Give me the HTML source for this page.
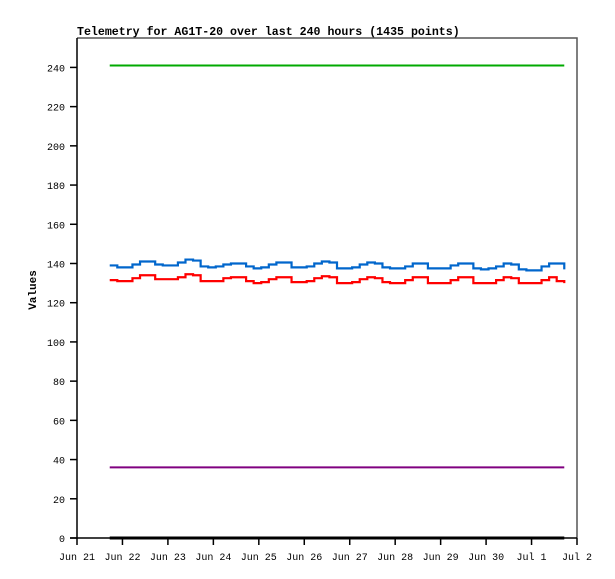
<!DOCTYPE html>
<html><head><meta charset="utf-8"><style>
html,body{margin:0;padding:0;background:#fff;}
svg{display:block;font-family:"Liberation Mono","DejaVu Sans Mono",monospace;}
</style></head><body>
<svg id="chart" width="615" height="579" viewBox="0 0 615 579" xmlns="http://www.w3.org/2000/svg">
<text x="77" y="35" font-size="11.6" font-weight="bold">Telemetry for AG1T-20 over last 240 hours (1435 points)</text>
<text transform="translate(36,290) rotate(-90)" text-anchor="middle" font-size="11" font-weight="bold">Values</text>
<g id="axes"></g>
<g id="series"></g>
</svg>
<script>
const yTicks = [0,20,40,60,80,100,120,140,160,180,200,220,240];
const xTickLabels = ["Jun 21","Jun 22","Jun 23","Jun 24","Jun 25","Jun 26","Jun 27","Jun 28","Jun 29","Jun 30","Jul 1","Jul 2"];
const startDay = 0.72;     // series start, in days after Jun 21
const stepHours = 4;
const blueValues = [139,138,138,139.5,141,141, 139.5,139,139,140.5,142,141.5, 138.5,138,138.5,139.5,140,140, 138.5,137.5,138,139.5,140.5,140.5, 138,138,138.5,140,141,140.5, 137.5,137.5,138,139.5,140.5,140, 138,137.5,137.5,138.5,140,140, 137.5,137.5,137.5,139,140,140, 137.5,137,137.5,138.5,140,139.5, 137,136.5,136.5,138.5,140,140, 137];
const redValues = [131.5,131,131,132.5,134,134, 132,132,132,133,134.5,134, 131,131,131,132.5,133,133, 131,130,130.5,132,133,133, 130.5,130.5,131,132.5,133.5,133, 130,130,130.5,132,133,132.5, 130.5,130,130,131.5,133,133, 130,130,130,131.5,133,133, 130,130,130,131.5,133,132.5, 130,130,130,131.5,133,131, 130];
const greenValue = 241;
const purpleValue = 36;
const blackValue = 0;
const totalHours = 240;

const L=77,R=577,T=38,B=538, yMax=255, nDays=11;
const ys = v => B - v/yMax*(B-T);
const xd = d => L + d/nDays*(R-L);
const xh = h => xd(startDay + h/24);
const NS="http://www.w3.org/2000/svg";
function mk(tag, attrs, parent){const e=document.createElementNS(NS,tag);for(const k in attrs)e.setAttribute(k,attrs[k]);parent.appendChild(e);return e;}
const axes=document.getElementById('axes'), series=document.getElementById('series');

const frame = mk('path',{d:`M${L},${T}H${R}V${B}`,fill:'none',stroke:'#555','stroke-width':1.5},axes);


const yAxis = mk('line',{x1:L,y1:T,x2:L,y2:B+1,stroke:'#000','stroke-width':1.5},axes);


const xAxis = mk('line',{x1:L-7,y1:B,x2:R,y2:B,stroke:'#000','stroke-width':1.5},axes);



yTicks.forEach(v=>{
  const t=mk('line',{x1:L-7,y1:ys(v),x2:L,y2:ys(v),stroke:'#000','stroke-width':1.5},axes);
  
  
  const tx=mk('text',{x:L-12,y:ys(v)+4,'text-anchor':'end','font-size':10},axes);
  tx.textContent=v;
  
  
});
xTickLabels.forEach((lab,i)=>{
  const x=xd(i);
  const t=mk('line',{x1:x,y1:B,x2:x,y2:B+7,stroke:'#000','stroke-width':1.5},axes);
  
  
  const tx=mk('text',{x:x,y:B+22,'text-anchor':'middle','font-size':10},axes);
  tx.textContent=lab;
  
  
});

function flat(v,color,name,w){
  const l=mk('line',{x1:xh(0),y1:ys(v),x2:xh(totalHours),y2:ys(v),stroke:color,'stroke-width':w},series);
  
  
}
function stepLine(vals,color,name){
  let d=`M${xh(0)},${ys(vals[0])}`;
  for(let i=1;i<vals.length;i++){d+=`H${xh(i*stepHours)}V${ys(vals[i])}`;}
  const p=mk('path',{d:d,fill:'none',stroke:color,'stroke-width':2.2},series);
  
  
}
flat(greenValue,'#00aa00','green-series-line',2);
flat(purpleValue,'#800080','purple-series-line',2);
flat(blackValue,'#000','black-series-line',3);
stepLine(blueValues,'#0066cc','blue-series-line');
stepLine(redValues,'#ff0000','red-series-line');
</script>
</body></html>
